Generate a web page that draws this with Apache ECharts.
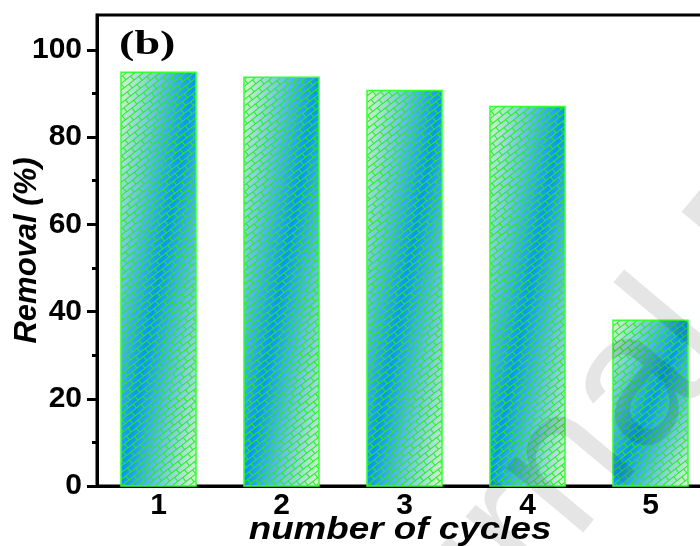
<!DOCTYPE html>
<html><head><meta charset="utf-8">
<script src="https://cdn.jsdelivr.net/npm/echarts@6/dist/echarts.min.js"></script>
<style>html,body{margin:0;padding:0;background:#fff}#c{width:700px;height:546px}</style>
</head><body><div id="c"></div>
<script>
const categories = ['1', '2', '3', '4', '5'];
const removal = [94.9, 93.7, 90.7, 87.0, 38.0];
const yMajorTicks = [0, 20, 40, 60, 80, 100];
const yMinorTicks = [10, 30, 50, 70, 90];

function brickCanvas(w, h) {
  const c = document.createElement('canvas');
  c.width = w; c.height = h;
  const ctx = c.getContext('2d');
  ctx.strokeStyle = '#22ee22';
  ctx.lineWidth = 1;
  ctx.rotate(-38 * Math.PI / 180);
  const L = 12.5, H = 5.2;
  ctx.beginPath();
  for (let k = -220; k <= 220; k++) {
    const y = k * H;
    ctx.moveTo(-1300, y); ctx.lineTo(1300, y);
    const off = (k % 2) ? L / 2 : 0;
    for (let j = -110; j <= 110; j++) {
      const x = j * L + off;
      ctx.moveTo(x, y); ctx.lineTo(x, y + H);
    }
  }
  ctx.stroke();
  return c;
}
const brick = brickCanvas(700, 546);
const FONT = 'Arial, "Liberation Sans", sans-serif';

const chart = echarts.init(document.getElementById('c'));
chart.setOption({
  animation: false,
  backgroundColor: '#fff',
  grid: { left: 97, top: 15, right: -12, bottom: 60, show: true, borderColor: '#000', borderWidth: 3,
          containLabel: false, outerBoundsMode: 'none' },
  xAxis: [{
    type: 'category', data: categories, boundaryGap: true,
    axisLine: { lineStyle: { color: '#000', width: 3 } },
    axisTick: { alignWithLabel: true, length: 9, lineStyle: { color: '#000', width: 3 } },
    axisLabel: { color: '#000', fontSize: 30, fontWeight: 'bold', fontFamily: FONT, margin: 5 },
    splitLine: { show: false }
  }, {
    type: 'category', data: categories, boundaryGap: true, position: 'bottom',
    axisLine: { show: false },
    axisTick: { alignWithLabel: false, length: 4, lineStyle: { color: '#000', width: 3 } },
    axisLabel: { show: false }, splitLine: { show: false }
  }],
  yAxis: [{
    type: 'value', min: 0, max: 108,
    name: 'Removal (%)', nameLocation: 'middle', nameGap: 54, nameMoveOverlap: false,
    nameTextStyle: { color: '#000', fontSize: 31, fontWeight: 'bold', fontStyle: 'italic', fontFamily: FONT },
    axisLine: { show: true, lineStyle: { color: '#000', width: 3 } },
    axisTick: { show: true, customValues: yMajorTicks, length: 10, lineStyle: { color: '#000', width: 3 } },
    axisLabel: { customValues: yMajorTicks, color: '#000', fontSize: 30, fontWeight: 'bold', fontFamily: FONT, margin: 15 },
    splitLine: { show: false }
  }, {
    type: 'value', min: 0, max: 108, position: 'left',
    axisLine: { show: false },
    axisTick: { show: true, customValues: yMinorTicks, length: 5, lineStyle: { color: '#000', width: 3 } },
    axisLabel: { show: false }, splitLine: { show: false }
  }],
  graphic: [
    { type: 'text', left: 119, top: 29, scaleX: 1.4,
      style: { text: '(b)', font: 'bold 33px "Liberation Serif", "Times New Roman", serif', fill: '#000' } },
    { type: 'text', x: 400, y: 530, scaleX: 1.15,
      style: { text: 'number of cycles', font: 'italic bold 32px ' + FONT, fill: '#000', align: 'center', verticalAlign: 'middle' } },
    { type: 'text', x: 370, y: 853, rotation: 0.873, z: 100,
      style: { text: 'Journal Pre-proof', font: '190px ' + FONT, fill: 'rgba(0,0,0,0.1)', align: 'left', verticalAlign: 'bottom' } }
  ],
  series: [{
    type: 'custom',
    xAxisIndex: 0, yAxisIndex: 0,
    data: removal.map((v, i) => [i, v]),
    renderItem: function (params, api) {
      const i = api.value(0), v = api.value(1);
      const base = api.coord([i, 0]);
      const top = api.coord([i, v]);
      const W = api.size([1, 0])[0] * 0.61;
      const x0 = base[0] - W / 2, y0 = top[1], H = base[1] - top[1];
      const n2 = H * H + W * W;
      const grad = new echarts.graphic.LinearGradient(
        x0, y0, x0 + 2 * W * H * H / n2, y0 + 2 * W * W * H / n2,
        [{ offset: 0, color: '#d8f7c8' }, { offset: 0.5, color: '#0b96f2' }, { offset: 1, color: '#d8f7c8' }], true);
      const shape = { x: x0, y: y0, width: W, height: H };
      return {
        type: 'group', children: [
          { type: 'rect', shape: shape, style: { fill: grad } },
          { type: 'rect', shape: shape, style: { fill: { image: brick, repeat: 'repeat' }, stroke: '#33ff33', lineWidth: 1.5 } }
        ]
      };
    }
  }]
});
</script>
</body></html>
